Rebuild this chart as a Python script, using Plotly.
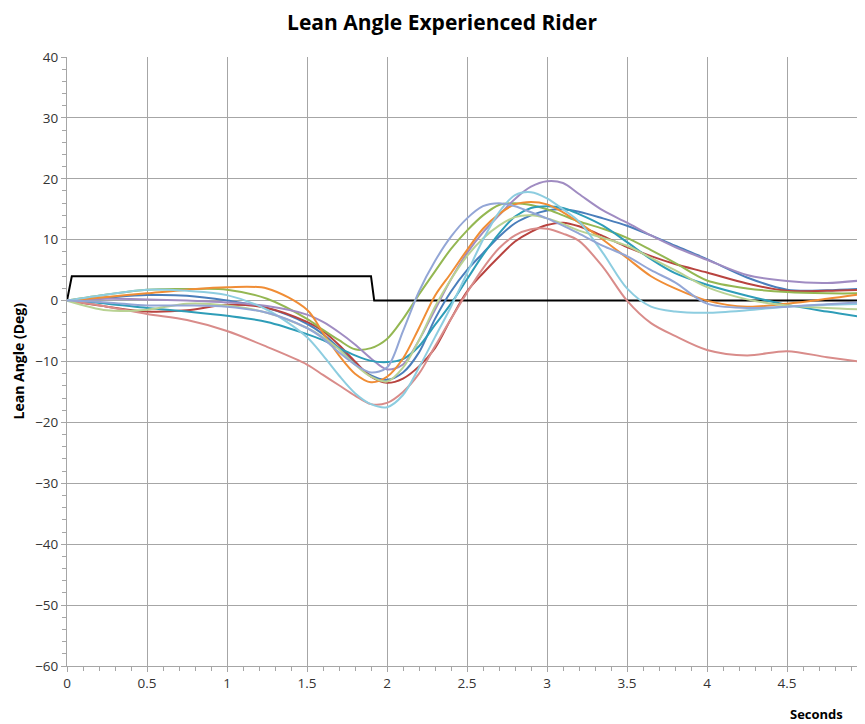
import plotly.graph_objects as go

# Time grid (seconds)
time_s = [0, 0.25, 0.5, 0.75, 1.0, 1.25, 1.5, 1.6, 1.7, 1.8, 1.9, 2.0, 2.1, 2.2, 2.3, 2.4,
          2.5, 2.6, 2.7, 2.8, 2.9, 3.0, 3.1, 3.2, 3.35, 3.5, 3.65, 3.8, 4.0, 4.25, 4.5, 4.75, 5.0]

# Input step (black)
step_t = [0, 0.03, 1.9, 1.92, 5.0]
step_v = [0, 4, 4, 0, 0]

# Lean angle runs (deg)
run_blue = [0, 0.5, 0.9, 0.8, 0.0, -1.2, -3.8, -5.5, -7.8, -10.2, -12.3, -13.0, -11.8, -8.5, -3.0, 1.5,
            5.0, 7.8, 10.5, 12.7, 14.0, 14.8, 15.0, 14.6, 13.5, 12.3, 10.7, 9.0, 6.8, 3.8, 1.8, 1.7, 2.0]
run_red = [0, -1.0, -1.8, -1.6, -0.7, -1.2, -3.5, -5.0, -7.3, -10.0, -12.5, -13.5, -12.8, -10.8, -7.8, -3.0,
           1.5, 4.5, 7.2, 9.7, 11.3, 12.4, 12.8, 12.2, 10.6, 8.8, 7.3, 6.0, 4.6, 2.8, 1.6, 1.6, 1.8]
run_green = [0, 1.0, 1.8, 1.9, 1.8, 0.3, -3.0, -4.8, -6.5, -8.0, -7.8, -6.3, -3.0, 1.0, 4.8, 8.5,
             11.5, 14.0, 15.7, 16.0, 15.7, 15.0, 14.0, 13.0, 11.8, 10.3, 8.3, 6.2, 3.3, 2.0, 1.4, 1.2, 1.2]
run_purple = [0, 0.3, 0.2, 0.0, -0.3, -0.9, -2.3, -3.5, -5.2, -7.2, -9.5, -11.3, -10.5, -6.5, -1.5, 3.5,
              7.8, 11.2, 14.0, 16.7, 18.7, 19.6, 19.3, 17.5, 14.8, 12.8, 10.7, 8.8, 6.7, 4.2, 3.2, 2.9, 3.4]
run_teal = [0, -0.5, -1.2, -1.8, -2.5, -3.5, -5.5, -6.5, -7.8, -9.0, -9.9, -10.1, -9.6, -7.5, -4.0, -0.5,
            3.5, 7.5, 11.0, 13.8, 15.2, 15.5, 15.2, 14.2, 12.3, 9.6, 6.8, 4.5, 2.6, 0.8, -0.7, -1.8, -2.8]
run_orange = [0, 0.6, 1.2, 1.8, 2.2, 2.0, -1.5, -5.3, -9.0, -12.0, -13.4, -12.5, -9.5, -4.5, 0.8, 4.5,
              8.3, 11.8, 14.2, 15.8, 16.2, 15.8, 14.5, 12.8, 10.0, 7.0, 4.0, 2.0, 0.0, -1.0, -0.5, 0.3, 1.2]
run_pink = [0, -1.0, -2.2, -3.2, -5.0, -7.6, -10.5, -12.2, -13.9, -15.6, -17.0, -16.8, -15.0, -12.0, -7.5, -3.0,
            1.3, 5.3, 8.6, 10.7, 11.7, 11.8, 11.0, 9.8, 5.5, 0.0, -3.7, -5.8, -8.1, -9.0, -8.3, -9.3, -10.2]
run_lightgreen = [0, -1.6, -1.5, -0.5, -0.8, -2.0, -4.5, -6.0, -8.0, -10.5, -12.5, -13.3, -11.0, -6.5, -1.0, 3.5,
                  7.3, 10.2, 12.3, 13.7, 14.0, 13.5, 12.6, 11.5, 10.3, 9.0, 7.0, 5.0, 2.2, 0.2, -0.8, -1.2, -1.5]
run_lightblue = [0, 1.0, 1.8, 1.6, 0.9, -1.5, -6.0, -9.0, -12.3, -15.2, -17.0, -17.5, -15.5, -11.0, -6.0, -1.0,
                 4.5, 10.0, 14.5, 17.3, 17.8, 16.8, 15.0, 13.0, 7.8, 2.0, -1.0, -1.8, -2.0, -1.6, -1.0, -0.7, -0.5]
run_periwinkle = [0, -0.3, -0.8, -0.8, -1.0, -2.0, -4.5, -6.2, -8.5, -10.5, -11.8, -11.0, -5.0, 1.5, 6.5, 10.5,
                  13.5, 15.5, 16.0, 15.5, 14.5, 13.5, 12.3, 11.0, 9.0, 7.3, 5.0, 3.0, -0.5, -1.2, -1.0, -0.6, -0.2]

runs = [
    (run_blue, "#4A7EBB"),
    (run_red, "#B8433F"),
    (run_green, "#94B752"),
    (run_purple, "#A08CC2"),
    (run_teal, "#2E9DB8"),
    (run_orange, "#F08D35"),
    (run_pink, "#D98C8A"),
    (run_lightgreen, "#B9D293"),
    (run_lightblue, "#8DCDE0"),
    (run_periwinkle, "#93A6D6"),
]

x_ticks = [0, 0.5, 1, 1.5, 2, 2.5, 3, 3.5, 4, 4.5, 5]
x_tick_text = ["0", "0.5", "1", "1.5", "2", "2.5", "3", "3.5", "4", "4.5", "5"]

fig = go.Figure()
fig.add_trace(go.Scatter(x=step_t, y=step_v, mode="lines",
                         line=dict(color="black", width=2), showlegend=False))
for vals, col in runs:
    fig.add_trace(go.Scatter(x=time_s, y=vals, mode="lines",
                             line=dict(color=col, width=2, shape="spline", smoothing=0.9),
                             showlegend=False))

# page body has an 8px margin: compensate so the plot lands where the reference has it
W, H = 857, 716
L, R, T, B = 59, 0, 49, 58
plot_w = W - L - R
plot_h = H - T - B
xmax = 5 * plot_w / 800.0

font_fam = "Open Sans, Liberation Sans, sans-serif"

fig.update_layout(
    width=W, height=H,
    margin=dict(l=L, r=R, t=T, b=B),
    paper_bgcolor="white", plot_bgcolor="white",
    font=dict(family=font_fam, color="#333333", size=13),
    title=dict(text="<b>Lean Angle Experienced Rider</b>", x=434 / W, xanchor="center",
               y=1 - 15 / H, yanchor="middle", font=dict(size=21, color="black")),
    showlegend=False,
)
fig.update_xaxes(
    range=[0, xmax], tickvals=x_ticks, ticktext=x_tick_text,
    showgrid=True, gridcolor="#A6A6A6", gridwidth=1, zeroline=False,
    showline=True, linecolor="#A6A6A6", linewidth=1,
    ticks="outside", ticklen=5, tickcolor="#A6A6A6",
    minor=dict(dtick=0.1, ticks="outside", ticklen=4, tickcolor="#A6A6A6", showgrid=False),
    tickfont=dict(size=13.5, color="#333333"),
)
fig.update_yaxes(
    range=[-60, 40], dtick=10, tick0=0,
    showgrid=True, gridcolor="#A6A6A6", gridwidth=1, zeroline=False,
    showline=True, linecolor="#A6A6A6", linewidth=1,
    ticks="outside", ticklen=5, tickcolor="#A6A6A6",
    minor=dict(dtick=2, ticks="outside", ticklen=4, tickcolor="#A6A6A6", showgrid=False),
    tickfont=dict(size=13.5, color="#333333"),
)
fig.add_annotation(text="5", x=5, y=-60, xref="x", yref="y", yshift=-17, showarrow=False,
                   font=dict(size=13.5, color="#333333"))
fig.add_annotation(text="<b>Seconds</b>", x=(808 - L) / plot_w, y=-(706 - (H - B)) / plot_h,
                   xref="paper", yref="paper", showarrow=False, xanchor="center", yanchor="middle",
                   font=dict(size=13, color="black"))
fig.add_annotation(text="<b>Lean Angle (Deg)</b>", x=(10 - L) / plot_w, y=0.5,
                   xref="paper", yref="paper", showarrow=False, textangle=-90,
                   xanchor="center", yanchor="middle", font=dict(size=14, color="black"))

fig.write_html("out.html")
